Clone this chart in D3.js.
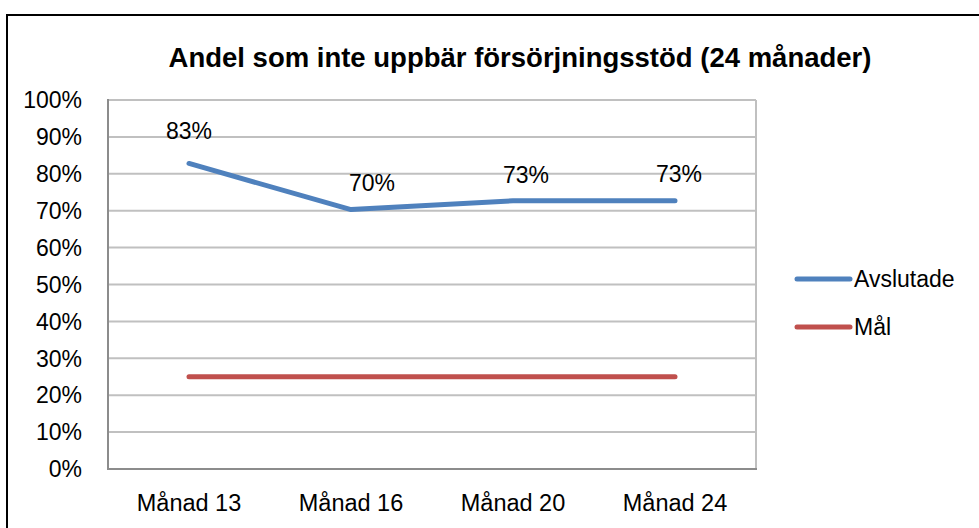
<!DOCTYPE html>
<html>
<head>
<meta charset="utf-8">
<script src="https://d3js.org/d3.v7.min.js"></script>
<title>Andel som inte uppbär försörjningsstöd</title>
<style>
  body { margin: 0; background: #fff; }
  text { font-family: "Liberation Sans", Arial, sans-serif; fill: #000; }
</style>
</head>
<body>
<script>
// data
var months = ["Månad 13", "Månad 16", "Månad 20", "Månad 24"];
var avslutade = [0.828, 0.703, 0.727, 0.727];
var mal = [0.25, 0.25, 0.25, 0.25];
var yTicks = [0, 0.1, 0.2, 0.3, 0.4, 0.5, 0.6, 0.7, 0.8, 0.9, 1];
var seriesNames = ["Avslutade", "Mål"];
var title = "Andel som inte uppbär försörjningsstöd (24 månader)";

var width = 979, height = 528;
var plot = {left: 108, right: 756, top: 100, bottom: 469};
var colors = ["#4f81bd", "#c0504d"];

var svg = d3.select("body").append("svg")
    .attr("width", width)
    .attr("height", height);

svg.append("rect").attr("width", width).attr("height", height).attr("fill", "#fff");

// outer chart frame
svg.append("rect")
    .attr("x", 7).attr("y", 15)
    .attr("width", width + 10).attr("height", height)
    .attr("fill", "none").attr("stroke", "#000").attr("stroke-width", 2);

svg.append("text")
    .attr("x", 520).attr("y", 67)
    .attr("text-anchor", "middle")
    .style("font-size", "27.5px").style("font-weight", "bold")
    .text(title);

var x = d3.scaleBand().domain(months).range([plot.left, plot.right]);
var y = d3.scaleLinear().domain([0, 1]).range([plot.bottom, plot.top]);

// gridlines
svg.append("g").selectAll("line")
    .data(yTicks.slice(1))
  .enter().append("line")
    .attr("x1", plot.left).attr("x2", plot.right)
    .attr("y1", function(d) { return y(d); })
    .attr("y2", function(d) { return y(d); })
    .attr("stroke", "#c0c0c0").attr("stroke-width", 2);

svg.append("line")
    .attr("x1", plot.right).attr("x2", plot.right)
    .attr("y1", plot.top).attr("y2", plot.bottom)
    .attr("stroke", "#c0c0c0").attr("stroke-width", 2);

// axes
svg.append("line")
    .attr("x1", plot.left).attr("x2", plot.left)
    .attr("y1", plot.top - 1).attr("y2", plot.bottom + 1)
    .attr("stroke", "#8c8c8c").attr("stroke-width", 2);
svg.append("line")
    .attr("x1", plot.left).attr("x2", plot.right + 1)
    .attr("y1", plot.bottom).attr("y2", plot.bottom)
    .attr("stroke", "#8c8c8c").attr("stroke-width", 2);

svg.append("g").selectAll("text")
    .data(yTicks)
  .enter().append("text")
    .attr("x", 82)
    .attr("y", function(d) { return y(d); })
    .attr("dy", "0.36em")
    .attr("text-anchor", "end")
    .style("font-size", "23px")
    .text(d3.format(".0%"));

svg.append("g").selectAll("text")
    .data(months)
  .enter().append("text")
    .attr("x", function(d) { return x(d) + x.bandwidth() / 2; })
    .attr("y", 503)
    .attr("dy", "0.36em")
    .attr("text-anchor", "middle")
    .style("font-size", "23.5px")
    .text(function(d) { return d; });

// lines
var line = d3.line()
    .x(function(d, i) { return x(months[i]) + x.bandwidth() / 2; })
    .y(function(d) { return y(d); });

[avslutade, mal].forEach(function(s, k) {
  svg.append("path")
      .attr("d", line(s))
      .attr("fill", "none")
      .attr("stroke", colors[k])
      .attr("stroke-width", 5)
      .attr("stroke-linecap", "round")
      .attr("stroke-linejoin", "round");
});

// data labels (nudged like the original)
var labelNudge = [[0, -33], [21, -27], [13, -26], [4, -27]];
svg.append("g").selectAll("text")
    .data(avslutade)
  .enter().append("text")
    .attr("x", function(d, i) { return x(months[i]) + x.bandwidth() / 2 + labelNudge[i][0]; })
    .attr("y", function(d, i) { return y(d) + labelNudge[i][1]; })
    .attr("dy", "0.36em")
    .attr("text-anchor", "middle")
    .style("font-size", "23px")
    .text(d3.format(".0%"));

// legend
var legend = svg.append("g").selectAll("g")
    .data(seriesNames)
  .enter().append("g")
    .attr("transform", function(d, i) { return "translate(797," + (279 + i * 48) + ")"; });

legend.append("line")
    .attr("x1", 0).attr("x2", 53)
    .attr("stroke", function(d, i) { return colors[i]; })
    .attr("stroke-width", 5)
    .attr("stroke-linecap", "round");

legend.append("text")
    .attr("x", 57)
    .attr("dy", "0.36em")
    .style("font-size", "23px")
    .text(function(d) { return d; });
</script>
</body>
</html>
